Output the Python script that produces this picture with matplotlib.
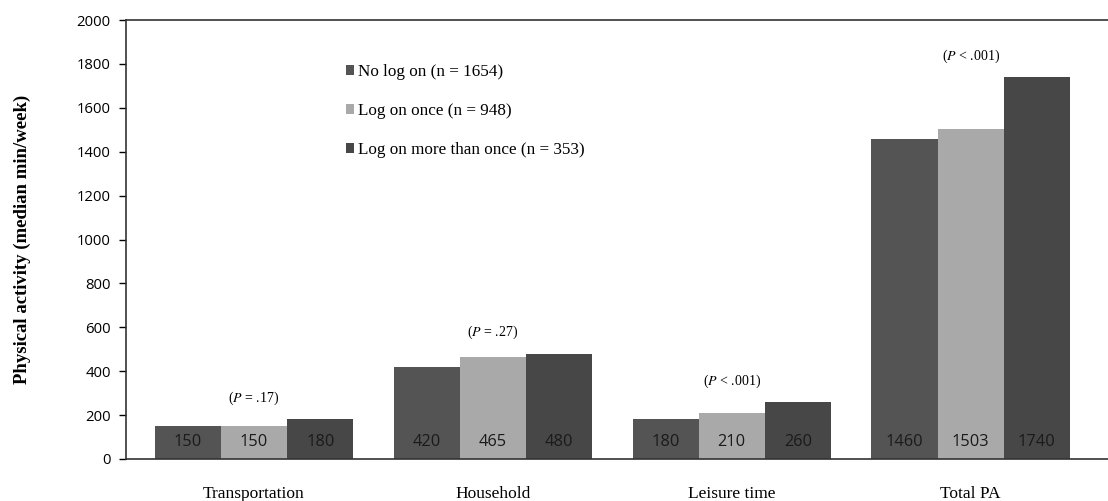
import matplotlib
matplotlib.use("Agg")
import matplotlib.pyplot as plt
import numpy as np

plt.rcParams["mathtext.fontset"] = "stix"

categories = ["Transportation", "Household", "Leisure time", "Total PA"]
series_names = ["No log on (n = 1654)", "Log on once (n = 948)", "Log on more than once (n = 353)"]
no_log_on = [150, 420, 180, 1460]
log_on_once = [150, 465, 210, 1503]
log_on_more = [180, 480, 260, 1740]
p_ops = ["=", "=", "<", "<"]
p_vals = [".17", ".27", ".001", ".001"]
yticks = [0, 200, 400, 600, 800, 1000, 1200, 1400, 1600, 1800, 2000]

colors = ["#545454", "#a9a9a9", "#474747"]
series = [no_log_on, log_on_once, log_on_more]

fig = plt.figure(figsize=(11.08, 5.01), dpi=100)
ax = fig.add_axes([126/1108, 42/501, 1 - 126/1108, (459-20)/501])

x = np.arange(len(categories))
w = 0.277
for i, (vals, c, name) in enumerate(zip(series, colors, series_names)):
    pos = x + (i - 1) * w
    ax.bar(pos, vals, width=w, color=c, label=name, zorder=2)
    for px, v in zip(pos, vals):
        ax.annotate(str(v), (px, 0), xytext=(0, 12.5), textcoords="offset points",
                    ha="center", va="center", fontsize=11.8, family="Open Sans",
                    color="#1a1a1a")

for xi, op, pv, *vals in zip(x, p_ops, p_vals, *series):
    top = max(vals)
    ax.annotate(f"($P$ {op} {pv})", (xi, top), xytext=(0, 15), textcoords="offset points",
                ha="center", va="center", fontsize=10, family="Liberation Serif")

ax.set_xlim(-0.536, 3.575)
ax.set_ylim(0, 2000)
ax.set_yticks(yticks)
ax.set_yticklabels([str(t) for t in yticks], family="Open Sans", fontsize=10.7)
ax.set_xticks(x)
ax.set_xticklabels(categories, family="Liberation Serif", fontsize=12.5)
ax.tick_params(axis="x", length=0, pad=19.5)
ax.tick_params(axis="y", length=5, width=1, direction="out", pad=6)
ax.spines["right"].set_visible(False)
for s in ["top", "left", "bottom"]:
    ax.spines[s].set_color("#333333")
    ax.spines[s].set_linewidth(1.2)

ax.set_ylabel("Physical activity (median min/week)", family="Liberation Serif",
              fontweight="bold", fontsize=13.5, labelpad=33)

leg = ax.legend(loc="upper left", bbox_to_anchor=(0.217, 0.915), frameon=False,
                prop={"family": "Liberation Serif", "size": 12.3},
                handlelength=0.5, handleheight=0.5, handletextpad=0.2,
                labelspacing=1.35, borderaxespad=0)

fig.savefig("out.png", dpi=100)
